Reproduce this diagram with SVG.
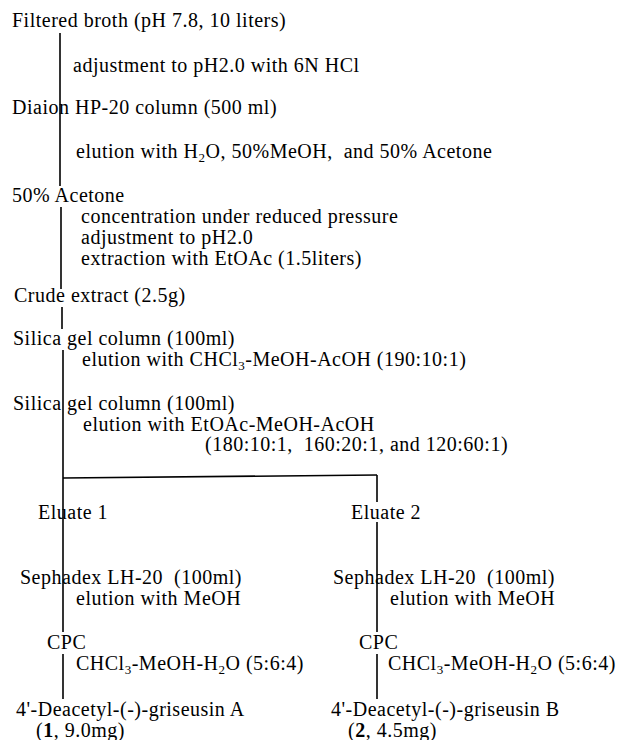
<svg xmlns="http://www.w3.org/2000/svg" width="629" height="740" viewBox="0 0 629 740">
<style>
text{font-family:"Liberation Serif","Times New Roman",serif;font-size:20px;letter-spacing:0.5px;fill:#000;white-space:pre}
.sub{font-size:13px}
.b{font-weight:bold}
.ln{stroke:#000;stroke-width:1.6;fill:none}
</style>
<rect width="629" height="740" fill="#fff"/>
<g id="connectors">
<path class="ln" d="M60,33V186"/>
<path class="ln" d="M61,207V289"/>
<path class="ln" d="M62,307V329"/>
<path class="ln" d="M63,350V632"/>
<path class="ln" d="M63,654V699"/>
<path class="ln" d="M63,478L377,475"/>
<path class="ln" d="M377,475V502"/>
<path class="ln" d="M377,522V632"/>
<path class="ln" d="M377,654V699"/>
</g>
<g id="n1"><text x="12" y="27">Filtered broth (pH 7.8, 10 liters)</text></g>
<g id="s1"><text x="73" y="72">adjustment to pH2.0 with 6N HCl</text></g>
<g id="n2"><text x="12" y="114">Diaion HP-20 column (500 ml)</text></g>
<g id="s2"><text x="76" y="158">elution with H<tspan class="sub" dy="4">2</tspan><tspan dy="-4">O, 50%MeOH,  and 50% Acetone</tspan></text></g>
<g id="n3"><text x="12" y="202">50% Acetone</text></g>
<g id="s3"><text x="81" y="223">concentration under reduced pressure</text><text x="81" y="244">adjustment to pH2.0</text><text x="81" y="265">extraction with EtOAc (1.5liters)</text></g>
<g id="n4"><text x="14" y="302">Crude extract (2.5g)</text></g>
<g id="n5"><text x="13" y="345">Silica gel column (100ml)</text></g>
<g id="s5"><text x="82" y="366">elution with CHCl<tspan class="sub" dy="4">3</tspan><tspan dy="-4">-MeOH-AcOH (190:10:1)</tspan></text></g>
<g id="n6"><text x="13" y="410">Silica gel column (100ml)</text></g>
<g id="s6"><text x="83" y="431">elution with EtOAc-MeOH-AcOH</text><text x="205" y="451">(180:10:1,  160:20:1, and 120:60:1)</text></g>
<g id="n7"><text x="38" y="519">Eluate 1</text></g>
<g id="n8"><text x="351" y="519">Eluate 2</text></g>
<g id="n9"><text x="20" y="584">Sephadex LH-20  (100ml)</text><text x="76" y="605">elution with MeOH</text></g>
<g id="n10"><text x="333" y="584">Sephadex LH-20  (100ml)</text><text x="390" y="605">elution with MeOH</text></g>
<g id="n11"><text x="47" y="649">CPC</text><text x="76" y="670">CHCl<tspan class="sub" dy="4">3</tspan><tspan dy="-4">-MeOH-H</tspan><tspan class="sub" dy="4">2</tspan><tspan dy="-4">O (5:6:4)</tspan></text></g>
<g id="n12"><text x="359" y="649">CPC</text><text x="388" y="670">CHCl<tspan class="sub" dy="4">3</tspan><tspan dy="-4">-MeOH-H</tspan><tspan class="sub" dy="4">2</tspan><tspan dy="-4">O (5:6:4)</tspan></text></g>
<g id="n13"><text x="16" y="716">4'-Deacetyl-(-)-griseusin A</text><text x="36" y="737">(<tspan class="b">1</tspan>, 9.0mg)</text></g>
<g id="n14"><text x="331" y="716">4'-Deacetyl-(-)-griseusin B</text><text x="348" y="737">(<tspan class="b">2</tspan>, 4.5mg)</text></g>
</svg>
